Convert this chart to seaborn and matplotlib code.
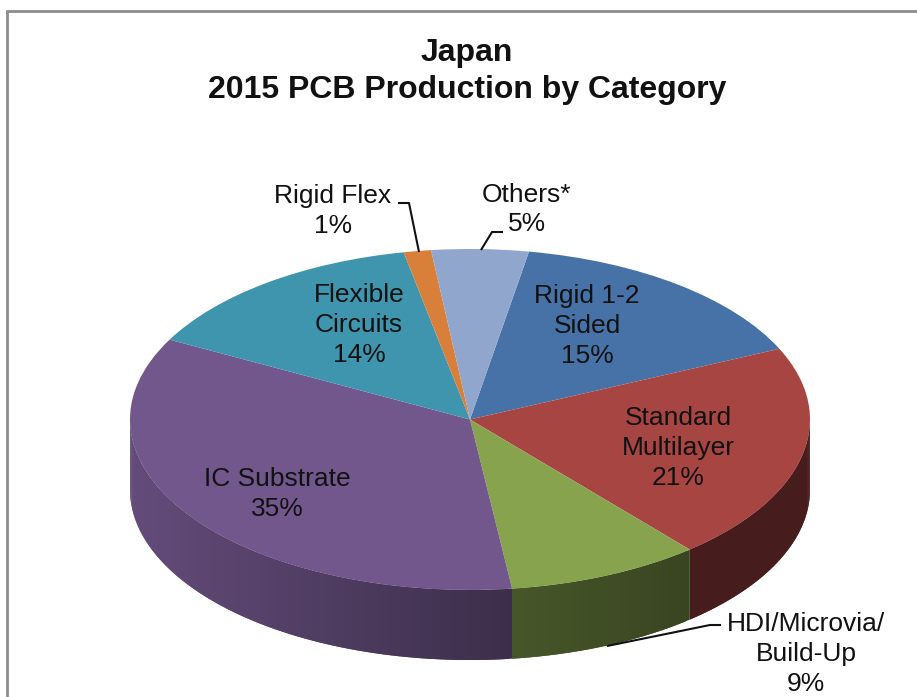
import numpy as np
import matplotlib
matplotlib.use("Agg")
import matplotlib.pyplot as plt
import seaborn as sns

categories = ["Rigid 1-2\nSided", "Standard\nMultilayer", "HDI/Microvia/\nBuild-Up",
              "IC Substrate", "Flexible\nCircuits", "Rigid Flex", "Others*"]
values = [15.4, 20.6, 9.2, 34.7, 14.1, 1.3, 4.6]
pct_labels = ["15%", "21%", "9%", "35%", "14%", "1%", "5%"]
colors = ["#4672a8", "#a74542", "#87a34e", "#72578c", "#3f95ae", "#d8803a", "#90a6cd"]
label_px = [(587, 326), (678, 448), (806, 654), (277, 494), (359, 325), (333, 211), (527, 209.5)]

sns.set_theme(style="white")
plt.rcParams["font.family"] = ["Liberation Sans", "DejaVu Sans"]

W, H = 917, 697
CX, CY, RX, RY, DEPTH = 470, 419.5, 340, 170.5, 70
START = 10.0  # degrees clockwise from 12 o'clock


def px(x, y):
    return (x - CX) / RX, (CY - y) / RY


fig = plt.figure(figsize=(W / 100, H / 100), dpi=100, facecolor="white")
ax = fig.add_axes([0, 0, 1, 1])
palette = sns.color_palette(colors)

# side wall, drawn from the slice values; each strip overlaps the next so no seams show
d = DEPTH / RY
edges = START + np.concatenate([[0], np.cumsum(values)]) / np.sum(values) * 360
for i, col in enumerate(palette):
    a0, a1 = max(edges[i], 90), min(edges[i + 1], 270)
    if a1 <= a0:
        continue
    n = max(2, int((a1 - a0) * 1.5))
    ang = np.radians(np.linspace(a0, a1, n + 1))
    for j in range(n):
        seg = np.linspace(ang[j], ang[min(j + 2, n)], 5)
        xs, ys = np.sin(seg), np.cos(seg)
        mid = np.sin((ang[j] + ang[j + 1]) / 2)
        f = np.interp(mid, [-1, 0.12, 0.65, 1], [0.87, 0.53, 0.42, 0.42])
        c = tuple(np.array(col) * f)
        ax.fill_between(xs, ys, ys - d, facecolor=c, edgecolor="none", lw=0, zorder=1)

wedges, _ = ax.pie(values, colors=palette, startangle=90 - START, counterclock=False,
                   radius=1, center=(0, 0), wedgeprops=dict(linewidth=0))
for w in wedges:
    w.set_zorder(2)
ax.set_aspect("auto")
ax.set_xlim(-CX / RX, (W - CX) / RX)
ax.set_ylim((CY - H) / RY, CY / RY)
ax.axis("off")

# labels
for name, pct, (x, y) in zip(categories, pct_labels, label_px):
    tx, ty = px(x, y)
    ax.text(tx, ty, f"{name}\n{pct}", ha="center", va="center", fontsize=19,
            color="#111111", linespacing=1.31, zorder=5)

# leader lines
leaders = [
    [(398, 203), (409, 203), (419, 252)],
    [(481, 250), (492, 232), (503, 232)],
    [(607, 646), (710, 625), (721, 625)],
]
for pts in leaders:
    xy = np.array([px(*p) for p in pts])
    ax.plot(xy[:, 0], xy[:, 1], color="#111111", lw=1.5, zorder=4, solid_capstyle="butt")

# title
tx, ty = px(467, 71.5)
ax.text(tx, ty, "Japan\n2015 PCB Production by Category", ha="center", va="center",
        fontsize=23, fontweight="bold", color="#111111", linespacing=1.29, zorder=5)

# chart frame (top and left edges only)
frame = np.array([px(7.5, H), px(7.5, 11.5), px(W, 11.5)])
ax.plot(frame[:, 0], frame[:, 1], color="#8c8c8c", lw=2.0, zorder=6, clip_on=False,
        solid_joinstyle="miter")

fig.savefig("out.png", dpi=100, facecolor="white")
